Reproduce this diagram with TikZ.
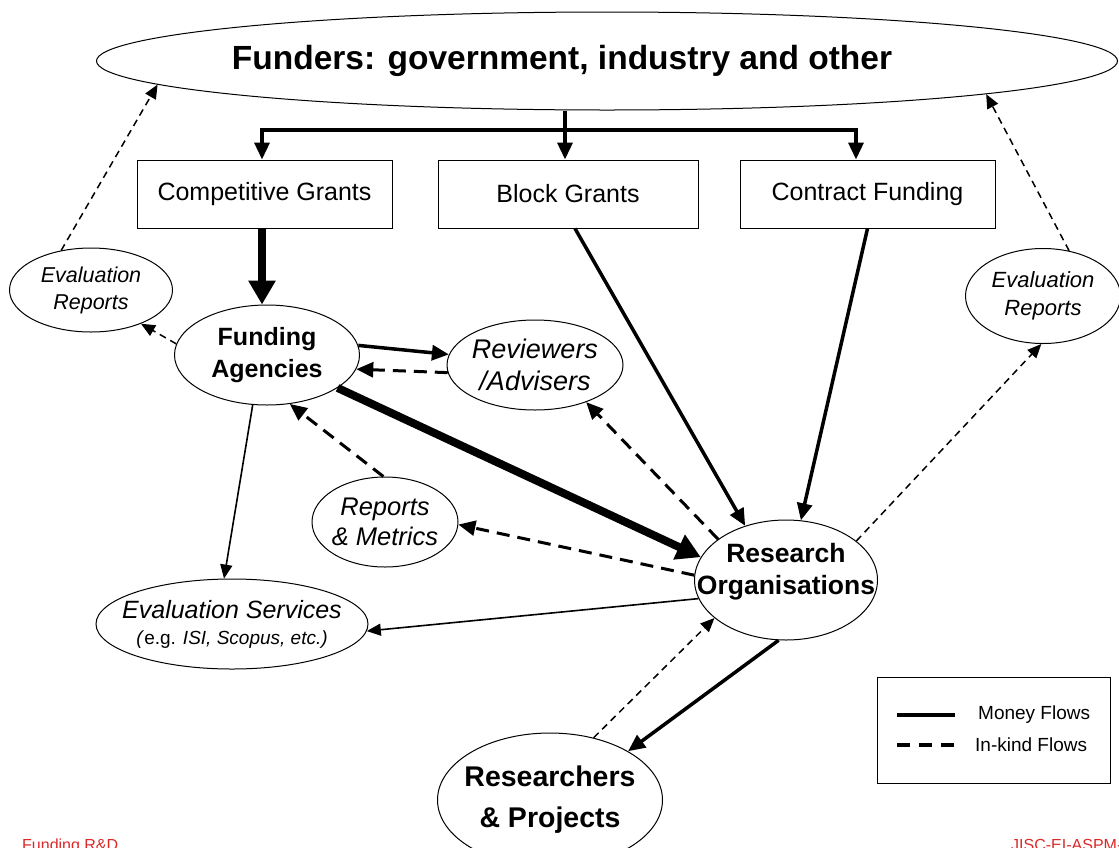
\documentclass[tikz,border=0pt]{standalone}
\usepackage{fontspec}
\setmainfont{Liberation Sans}
\usetikzlibrary{shapes.geometric,arrows.meta}
\definecolor{footred}{RGB}{220,40,40}
\begin{document}
\begin{tikzpicture}[x=1pt,y=-1pt,
  ell/.style={ellipse,draw,line width=1pt,inner xsep=-40pt,inner ysep=-15pt,align=center,fill=white},
  box/.style={rectangle,draw,line width=1pt,inner sep=0pt,minimum height=68pt,font=\fontsize{25}{28}\selectfont},
  money/.style={line width=3.5pt,-{Triangle[length=17pt,width=15pt]}},
  bigmoney/.style={line width=8pt,-{Triangle[length=24pt,width=26pt]}},
  thinmoney/.style={line width=1.6pt,-{Triangle[length=14pt,width=12pt]}},
  kind/.style={line width=3pt,dash pattern=on 13pt off 8pt,-{Triangle[length=17pt,width=15pt]}},
  thinkind/.style={line width=1.5pt,dash pattern=on 7pt off 5pt,-{Triangle[length=14pt,width=12pt]}},
  legtext/.style={anchor=west,font=\fontsize{19}{22}\selectfont,inner sep=0pt},
  foot/.style={anchor=north west,inner sep=0pt,text=footred,font=\fontsize{16}{18}\selectfont},
]
\useasboundingbox (0,0) rectangle (1119,847);
\clip (0,0) rectangle (1119,847);

% nodes
\node[ell,inner xsep=-200pt,minimum width=1021pt,minimum height=98pt,font=\bfseries\fontsize{33.5}{38}\selectfont] (funders) at (607,61) {Funders: government, industry and other\hspace*{90pt}};
\node[box,minimum width=255pt] (cg) at (264.5,194) {Competitive Grants};
\node[box,minimum width=260pt] (bg) at (568,194) {Block Grants};
\node[box,minimum width=255pt] (cf) at (867.5,194) {Contract Funding};

\node[ell,font=\bfseries\fontsize{25}{32}\selectfont,minimum width=185pt,minimum height=100pt] (fa) at (267,355) {Funding\\Agencies};
\node[ell,font=\itshape\fontsize{27}{32}\selectfont,minimum width=176pt,minimum height=90pt] (rev) at (535,365) {Reviewers\\/Advisers};
\node[ell,font=\itshape\fontsize{21.5}{27}\selectfont,minimum width=163pt,minimum height=84pt] (ler) at (91,290) {Evaluation\\Reports};
\node[ell,font=\itshape\fontsize{22}{28}\selectfont,minimum width=155pt,minimum height=95pt] (rer) at (1043,296) {Evaluation\\Reports};
\node[ell,font=\itshape\fontsize{25.5}{30}\selectfont,minimum width=146pt,minimum height=90pt] (rm) at (385,522) {Reports\\\& Metrics};
\node[ell,font=\bfseries\fontsize{26.5}{32}\selectfont,minimum width=183pt,minimum height=120pt,text depth=22pt] (ro) at (786,580) {Research\\Organisations};
\node[ell,font=\fontsize{25}{26}\selectfont,minimum width=272pt,minimum height=90pt] (es) at (232,624)
  {{\itshape Evaluation Services}\\
   {\fontsize{19}{22}\selectfont\textit{(}e.g. \textit{ISI, Scopus, etc.)}}};
\node[ell,font=\bfseries\fontsize{28.5}{41}\selectfont,minimum width=225pt,minimum height=134pt] (rp) at (550,800) {Researchers\\\& Projects};

% top tree
\coordinate (j) at (565,130);
\draw[line width=3.5pt] (j |- funders.south) -- (j);
\draw[money] (j) -| ([xshift=-2.5pt]cg.north);
\draw[money] (j) -| ([xshift=-11.5pt]cf.north);
\draw[money] (j) -- (j |- bg.north);

% money flows
\draw[bigmoney] ([xshift=-2.5pt]cg.south) -- ([xshift=-2.5pt]cg.south |- fa.north);
\draw[bigmoney] (fa.-25) -- (ro.165);
\draw[money] ([xshift=7pt]bg.south) -- (ro.127);
\draw[money] (cf.south) -- (ro.76);
\draw[money] (fa.6) -- (rev.173);
\draw[money] (ro.263) -- (rp.32);
\draw[thinmoney] (fa.-106) -- (es.100);
\draw[thinmoney] (ro.192) -- (es.-3);

% in-kind flows
\draw[kind] (rev.185) -- (fa.-9);
\draw[kind] (ro.149) -- (rev.-36);
\draw[kind] (rm.92) -- (fa.-65);
\draw[kind] (ro.177) -- (rm.-2);
\draw[thinkind] (fa.173) -- (ler.-34);
\draw[thinkind] (ler.127) -- (funders.183);
\draw[thinkind] (rer.60) -- (funders.-5.3);
\draw[thinkind] (ro.29) -- (rer.-92);
\draw[thinkind] (rp.55) -- (ro.208);

% legend
\node[draw,line width=1pt,minimum width=233pt,minimum height=106pt,inner sep=0pt] (leg) at (993.5,730) {};
\coordinate (m1) at (897,715);
\coordinate (m2) at (955,715);
\coordinate (k1) at (897,745);
\coordinate (k2) at (955,745);
\draw[line width=3.5pt] (m1) -- (m2);
\draw[line width=3.5pt,dash pattern=on 13pt off 9pt] (k1) -- (k2);
\node[legtext] (lm) at (978,715) {Money Flows};
\node[legtext] (lk) at (975,745) {In-kind Flows};

% footer
\node[foot] (fl) at (22,839) {Funding R\&D};
\node[foot] (fr) at (1011,839) {JISC-EI-ASPM-3};
\end{tikzpicture}
\end{document}
